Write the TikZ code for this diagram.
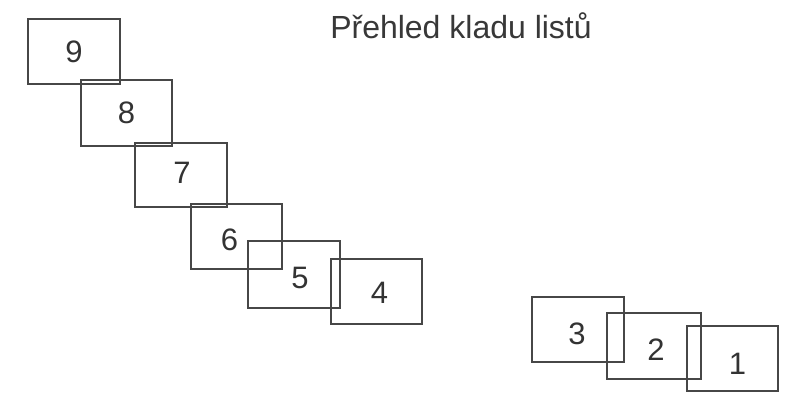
\documentclass[tikz,border=0pt]{standalone}
\usepackage{fontspec}
\setmainfont{Liberation Sans}
\begin{document}
\begin{tikzpicture}[x=1pt,y=-1pt,
  sheet/.style={draw=black!72,line width=1.3pt,rectangle,inner sep=0pt,outer sep=0pt},
  num/.style={font=\fontsize{31}{31}\selectfont,text=black!80,inner sep=0pt},
  ttl/.style={font=\fontsize{32}{32}\selectfont,text=black!78,inner sep=0pt,anchor=base}]
\useasboundingbox (0,0) rectangle (795,406);
\node[ttl] (title) at (461,39) {Přehled kladu listů};
\foreach \n/\xa/\ya/\xb/\yb/\dx/\dy in {9/28/19/120/84/0/0, 8/81/80/172/146/0/0, 7/135/143/227/207/1/-2,
  6/191/204/282/269/-7/3, 5/248/241/340/308/6/3, 4/331/259/422/324/3/1,
  3/532/297/624/362/-1/4, 2/607/313/701/379/2/4, 1/687/326/778/391/5/5}{
  \pgfmathsetmacro{\w}{\xb-\xa}
  \pgfmathsetmacro{\h}{\yb-\ya}
  \node[sheet,minimum width=\w pt,minimum height=\h pt] (s\n) at ({(\xa+\xb)/2},{(\ya+\yb)/2}) {};
  \node[num] (n\n) at ([shift={(\dx,\dy)}]s\n.center) {\n};
}
\end{tikzpicture}
\end{document}
